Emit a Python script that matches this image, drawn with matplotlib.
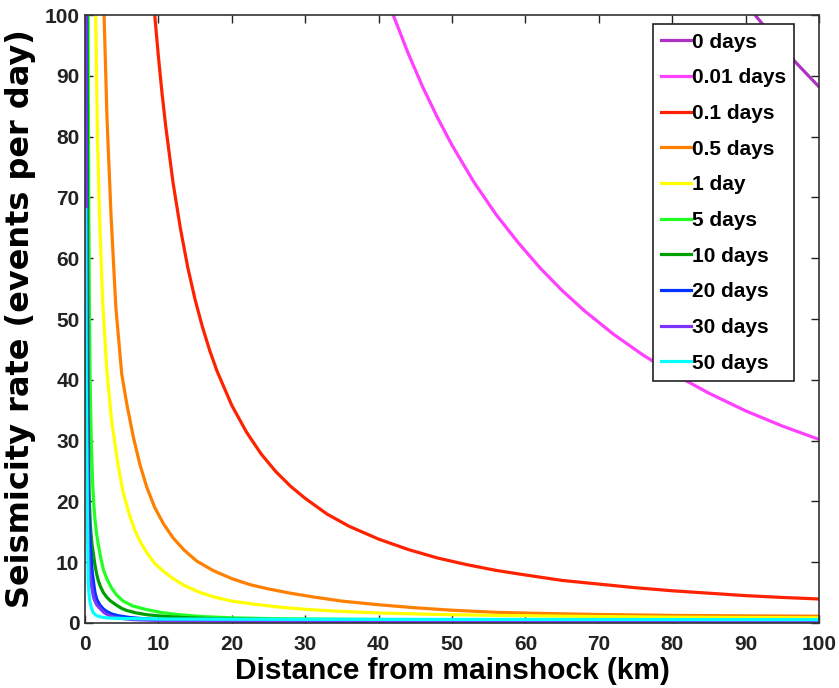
import matplotlib
matplotlib.use('Agg')
import matplotlib.pyplot as plt

plt.rcParams['font.family'] = ['Liberation Sans', 'DejaVu Sans']
plt.rcParams['font.weight'] = 'bold'

# values (x: km, y: events per day)
labels = ['0 days', '0.01 days', '0.1 days', '0.5 days', '1 day',
          '5 days', '10 days', '20 days', '30 days', '50 days']
colors = ['#b032c4', '#ff40ff', '#ff2200', '#ff8000', '#ffff00',
          '#22ff22', '#00a000', '#0033ff', '#7f33ff', '#00ffff']

x_0d = [90.0, 91.3, 93, 95, 97, 100]
y_0d = [102, 100, 97.5, 94.7, 92.0, 88.2]

x_001d = [39.2, 42, 44, 46, 48, 50, 53, 56, 59, 62, 65, 68, 72, 76, 80, 85, 90, 95, 100]
y_001d = [110, 100, 93.8, 88.2, 83.2, 78.6, 72.5, 67.2, 62.6, 58.4, 54.7, 51.4,
          47.5, 44.1, 41.1, 37.8, 34.9, 32.4, 30.2]

x_01d = [8.9, 9.5, 10, 10.5, 11, 12, 13, 14, 15, 16, 17, 18, 20, 22, 24, 26, 28, 30,
         33, 36, 40, 44, 48, 52, 56, 60, 65, 70, 75, 80, 85, 90, 95, 100]
y_01d = [110, 100, 93.2, 87.1, 81.7, 72.4, 64.9, 58.5, 53.2, 48.7, 44.8, 41.4, 35.8,
         31.4, 27.8, 24.9, 22.5, 20.5, 17.9, 15.9, 13.8, 12.1, 10.7, 9.6, 8.65, 7.9,
         7.0, 6.4, 5.8, 5.3, 4.9, 4.5, 4.2, 3.95]

x_05d = [2.45, 2.6, 3.0, 3.55, 4.2, 5.0, 5.7, 6.6, 7.5, 8.4, 9.5, 10.7, 12, 13.5, 15.2,
         17.5, 20, 22.5, 25, 28, 31, 35, 40, 45, 50, 56, 63, 70, 80, 90, 100]
y_05d = [110, 100, 83, 67, 52, 41, 36, 30.5, 26, 22.4, 19, 16.3, 14, 12, 10.2,
         8.6, 7.3, 6.3, 5.6, 4.9, 4.3, 3.6, 3.0, 2.5, 2.1, 1.75, 1.55, 1.4, 1.25, 1.17, 1.12]

x_1d = [1.35, 1.45, 1.7, 1.95, 2.4, 2.95, 3.6, 4.5, 5.2, 6, 6.8, 7.6, 8.4, 9.5, 10.7,
        12, 13.5, 15.5, 17.5, 20, 23, 26.6, 30, 35, 40, 48, 56, 65, 80, 100]
y_1d = [110, 100, 80, 68, 53, 42, 33.5, 26, 21.5, 18, 15.2, 13.2, 11.6, 9.8, 8.5,
        7.3, 6.2, 5.1, 4.3, 3.6, 3.1, 2.6, 2.25, 1.9, 1.65, 1.4, 1.25, 1.12, 0.95, 0.85]

x_5d = [0.38, 0.42, 0.5, 0.6, 0.7, 0.85, 1.04, 1.2, 1.36, 1.6, 1.8, 2.1, 2.5, 3.0, 3.6,
        4.3, 5.2, 6.5, 8.4, 10.5, 12.9, 16, 20, 25, 31, 50, 100]
y_5d = [110, 100, 72, 52, 40, 30, 23, 19.5, 17, 14.5, 13, 11, 8.8, 7.2, 5.8,
        4.6, 3.6, 2.8, 2.2, 1.7, 1.35, 1.05, 0.85, 0.72, 0.65, 0.5, 0.35]

x_10d = [0.27, 0.3, 0.36, 0.45, 0.52, 0.59, 0.7, 0.8, 0.95, 1.13, 1.36, 1.6, 1.81, 2.1,
         2.5, 3.0, 3.4, 4.2, 5.0, 5.7, 7, 8.5, 10.7, 14, 18, 30, 60, 100]
y_10d = [110, 100, 60, 35, 25, 20, 17, 15, 13, 11.5, 9.5, 8, 7, 6,
         5, 4.2, 3.7, 3.0, 2.4, 2.05, 1.65, 1.35, 1.1, 0.85, 0.7, 0.5, 0.35, 0.25]

x_20d = [0.16, 0.18, 0.21, 0.25, 0.3, 0.35, 0.4, 0.45, 0.55, 0.68, 0.8, 0.91, 1.0, 1.13,
         1.25, 1.36, 1.6, 2.0, 2.5, 2.95, 3.6, 4.5, 6.1, 8, 10, 20, 50, 100]
y_20d = [110, 100, 80, 60, 45, 35, 28, 22, 17.5, 14, 11.5, 9.5, 8.2, 7,
         5.9, 5, 3.9, 3.0, 2.3, 1.9, 1.5, 1.2, 0.9, 0.7, 0.55, 0.35, 0.25, 0.2]

x_30d = [0.12, 0.14, 0.17, 0.2, 0.25, 0.3, 0.37, 0.45, 0.55, 0.68, 0.8, 0.91, 1.05, 1.2,
         1.4, 1.6, 2.04, 2.6, 3.2, 3.86, 5, 6.5, 10, 20, 50, 100]
y_30d = [110, 100, 75, 55, 40, 30, 21, 15, 10.5, 8, 6.8, 6, 5, 4.1,
         3.5, 3, 2.4, 1.7, 1.3, 1.0, 0.75, 0.55, 0.4, 0.3, 0.2, 0.15]

x_50d = [0.1, 0.12, 0.15, 0.18, 0.22, 0.26, 0.3, 0.34, 0.38, 0.42, 0.45, 0.52, 0.6, 0.7,
         0.8, 0.95, 1.13, 1.4, 1.8, 2.3, 2.95, 4, 5, 10, 30, 100]
y_50d = [68, 58, 48, 39, 32, 26, 22, 16, 12, 8.5, 6.5, 5.2, 4.2, 3.4,
         2.8, 2.2, 1.7, 1.35, 1.1, 0.95, 0.85, 0.78, 0.75, 0.65, 0.6, 0.55]

xs = [x_0d, x_001d, x_01d, x_05d, x_1d, x_5d, x_10d, x_20d, x_30d, x_50d]
ys = [y_0d, y_001d, y_01d, y_05d, y_1d, y_5d, y_10d, y_20d, y_30d, y_50d]

fig = plt.figure(figsize=(8.39, 6.88), dpi=100)
ax = fig.add_axes([0.1013, 0.0945, 0.8749, 0.8835])

for x, y, c, lab in zip(xs, ys, colors, labels):
    ax.plot(x, y, color=c, lw=2.3, label=lab)

ax.set_xlim(0, 100)
ax.set_ylim(0, 100)
ax.set_xticks(range(0, 101, 10))
ax.set_yticks(range(0, 101, 10))
ax.tick_params(direction='in', length=6, width=1, top=True, right=True,
               labelsize=15, colors='#222222')
ax.tick_params(axis='x', pad=9)
ax.tick_params(axis='y', pad=4)
for lab in ax.get_xticklabels() + ax.get_yticklabels():
    lab.set_fontweight('bold')
for s in ax.spines.values():
    s.set_color('#333333')
    s.set_linewidth(1.2)

ax.set_xlabel('Distance from mainshock (km)', fontsize=21.5, fontweight='bold', labelpad=2)
ax.set_ylabel('Seismicity rate (events per day)', fontsize=23, fontweight='bold',
              labelpad=6, family=['DejaVu Sans'])

leg = ax.legend(loc='upper left', bbox_to_anchor=(0.774, 0.985), fontsize=15,
                frameon=True, fancybox=False, framealpha=1, handlelength=1.4,
                handletextpad=0.05, labelspacing=0.8, borderpad=0.4, borderaxespad=0)
leg.get_frame().set_edgecolor('#222222')
leg.get_frame().set_linewidth(1.2)
for t in leg.get_texts():
    t.set_fontweight('bold')

fig.savefig('out.png', dpi=100)
